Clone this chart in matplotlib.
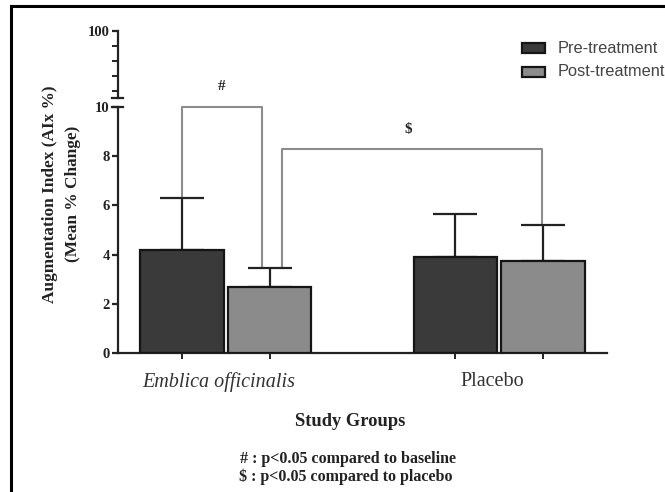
import matplotlib
matplotlib.use("Agg")
import matplotlib.pyplot as plt
from matplotlib.lines import Line2D
from matplotlib.patches import Rectangle
import numpy as np

# ---- data ----
groups = ["Emblica officinalis", "Placebo"]
series = ["Pre-treatment", "Post-treatment"]
pre_mean = [4.18, 3.91]
post_mean = [2.67, 3.74]
pre_err = [2.13, 1.73]
post_err = [0.79, 1.46]
yticks_lower = [0, 2, 4, 6, 8, 10]
yticks_upper_major = [100]
yticks_upper_minor = [20, 40, 60, 80]
footnotes = ["# : p<0.05 compared to baseline", "\\$ : p<0.05 compared to placebo"]

W, H = 665, 492
fig = plt.figure(figsize=(W / 100, H / 100), dpi=100)

def fx(px):
    return px / W

def fy(py):
    return 1 - py / H

serif = "Liberation Serif"
sans = "Liberation Sans"

# axes geometry (pixels)
x0, x1 = 118, 607
ax = fig.add_axes([fx(x0), fy(353), fx(x1 - x0), fy(107) - fy(353)])
axu = fig.add_axes([fx(x0), fy(98), fx(x1 - x0), fy(30.7) - fy(98)])

xc = np.arange(len(groups))
off = 0.16
bw = 0.305
pre_x = xc - off
post_x = xc + off

pre_color = "#3a3a3a"
post_color = "#8b8b8b"
edge = "#151515"

ax.bar(pre_x, pre_mean, width=bw, color=pre_color, edgecolor=edge, linewidth=1.6, zorder=3)
ax.bar(post_x, post_mean, width=bw, color=post_color, edgecolor=edge, linewidth=1.6, zorder=3)
ax.errorbar(pre_x, pre_mean, yerr=[np.zeros(len(pre_err)), pre_err], fmt="none",
            ecolor="#222222", elinewidth=1.6, capsize=15.5, capthick=1.6, zorder=2)
ax.errorbar(post_x, post_mean, yerr=[np.zeros(len(post_err)), post_err], fmt="none",
            ecolor="#222222", elinewidth=1.6, capsize=15.5, capthick=1.6, zorder=2)

ax.set_xlim(-0.394, 1.394)
ax.set_ylim(0, 10)
axu.set_xlim(-0.394, 1.394)
axu.set_ylim(10, 100)

for a in (ax, axu):
    a.spines["top"].set_visible(False)
    a.spines["right"].set_visible(False)
    a.spines["left"].set_linewidth(1.6)
    a.set_facecolor("none")
axu.spines["bottom"].set_visible(False)
ax.spines["bottom"].set_linewidth(1.6)
ax.spines["bottom"].set_color("#222222")
ax.spines["left"].set_color("#222222")
axu.spines["left"].set_color("#222222")

ax.set_yticks(yticks_lower)
ax.set_yticklabels([str(v) for v in yticks_lower], fontfamily=serif, fontweight="bold",
                   fontsize=10.5, color="#222222")
ax.tick_params(axis="y", direction="out", length=4, width=1.6, color="#222222", pad=2)

ax.set_xticks(np.concatenate([pre_x, post_x]))
ax.set_xticklabels([])
ax.tick_params(axis="x", direction="out", length=4, width=1.4, color="#222222")
ax.set_xticks(xc - 0.025, minor=True)
ax.set_xticklabels(groups, minor=True, fontfamily=serif, fontsize=14.5, color="#333333")
ax.tick_params(axis="x", which="minor", length=0, pad=14)
ax.get_xticklabels(minor=True)[0].set_fontstyle("italic")

axu.set_xticks([])
axu.set_yticks(yticks_upper_major)
axu.set_yticklabels([str(v) for v in yticks_upper_major], fontfamily=serif, fontweight="bold",
                    fontsize=10.5, color="#222222")
axu.set_yticks(yticks_upper_minor, minor=True)
axu.tick_params(axis="y", which="major", direction="out", length=4, width=1.6, color="#222222", pad=2)
axu.tick_params(axis="y", which="minor", direction="out", length=4, width=1.4, color="#222222")

# break marks
bx = [-6 / (x1 - x0), 5 / (x1 - x0)]
ax.plot(bx, [10, 10], transform=ax.get_yaxis_transform(), color="#222222", lw=1.6, clip_on=False)
axu.plot(bx, [10, 10], transform=axu.get_yaxis_transform(), color="#222222", lw=1.6, clip_on=False)

# significance brackets
bc = "#8c8c8c"
hx_l = pre_x[0]
hx_r = xc[0] + 0.1325
ax.plot([hx_l, hx_l, hx_r, hx_r], [pre_mean[0] + pre_err[0], 10, 10, post_mean[0] + post_err[0]],
        color=bc, lw=1.5, clip_on=False, zorder=1)
ax.text((hx_l + hx_r) / 2, 10.85, "#", ha="center", va="center", fontfamily=serif,
        fontweight="bold", fontsize=11, color="#222222", clip_on=False)
dx_l = xc[0] + 0.2056
dx_r = post_x[1] - 0.004
ax.plot([dx_l, dx_l, dx_r, dx_r], [post_mean[0] + post_err[0], 8.28, 8.28, post_mean[1] + post_err[1]],
        color=bc, lw=1.5, zorder=1)
ax.text(0.667, 9.07, "\\$", ha="center", va="center", fontfamily=serif,
        fontweight="bold", fontsize=11, color="#222222")

# axis labels
fig.text(fx(61.5), fy(194), "Augmentation Index (AIx %)\n(Mean % Change)", rotation=90,
         ha="center", va="center", fontfamily=serif, fontweight="bold", fontsize=12.4,
         linespacing=1.55, color="#222222")
fig.text(fx(350), fy(421.5), "Study Groups", ha="center", va="center", fontfamily=serif,
         fontweight="bold", fontsize=13.3, color="#222222")
fig.text(fx(348), fy(459), footnotes[0], ha="center", va="center", fontfamily=serif,
         fontweight="bold", fontsize=11.5, color="#222222")
fig.text(fx(346), fy(477), footnotes[1], ha="center", va="center", fontfamily=serif,
         fontweight="bold", fontsize=11.5, color="#222222")

# legend (manual)
for i, (lab, col) in enumerate(zip(series, [pre_color, post_color])):
    yc = 48.3 + i * 23.4
    fig.patches.append(Rectangle((fx(522), fy(yc + 5)), fx(23), fy(yc - 5) - fy(yc + 5),
                                 transform=fig.transFigure, facecolor=col, edgecolor=edge,
                                 linewidth=1.6))
    fig.text(fx(558), fy(yc), lab, ha="left", va="center", fontfamily=sans, fontsize=11.8,
             color="#444444")

# frame border (top and left)
fig.lines.append(Line2D([fx(11), fx(11)], [0, fy(6)], transform=fig.transFigure, color="black", lw=2.2))
fig.lines.append(Line2D([fx(11), 1], [fy(6), fy(6)], transform=fig.transFigure, color="black", lw=2.2))

fig.savefig("out.png", dpi=100, facecolor="white")
